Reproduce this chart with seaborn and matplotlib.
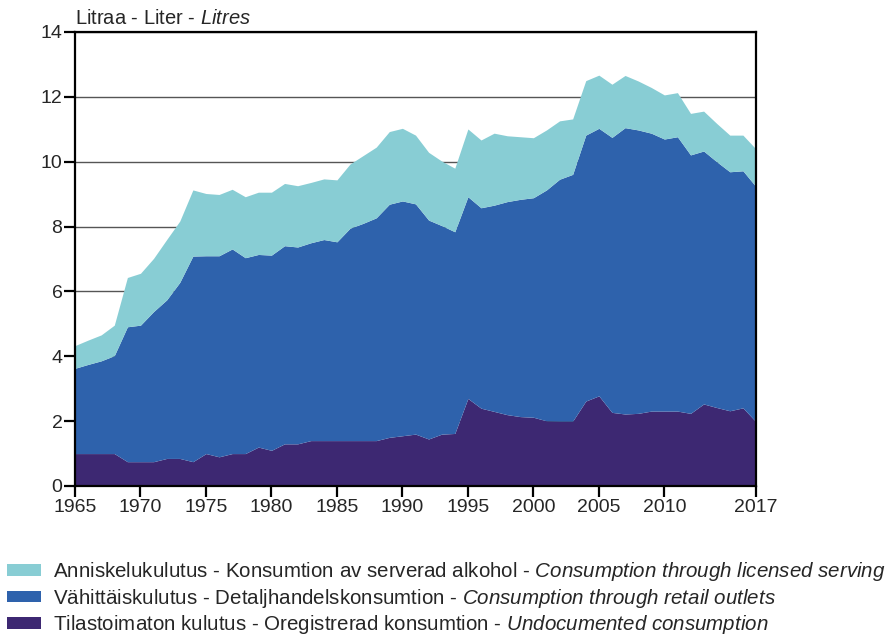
import numpy as np
import pandas as pd
import matplotlib
matplotlib.use("Agg")
import matplotlib.pyplot as plt
import seaborn as sns

# ---------------- data (litres per capita) ----------------
years = list(range(1965, 2018))

undocumented = [
    1.0, 1.0, 1.0, 1.0, 0.75, 0.75, 0.75, 0.85, 0.85, 0.75,
    1.0, 0.9, 1.0, 1.0, 1.2, 1.1, 1.3, 1.3, 1.4, 1.4,
    1.4, 1.4, 1.4, 1.4, 1.5, 1.55, 1.6, 1.45, 1.6, 1.62,
    2.7, 2.4, 2.3, 2.2, 2.14, 2.12, 2.01, 2.0, 2.0, 2.62,
    2.78, 2.27, 2.22, 2.24, 2.31, 2.31, 2.31, 2.24, 2.53, 2.42,
    2.32, 2.41, 1.98,
]

# cumulative top of retail band (undocumented + retail)
retail_top = [
    3.63, 3.75, 3.86, 4.02, 4.91, 4.96, 5.38, 5.74, 6.28, 7.09,
    7.1, 7.1, 7.31, 7.04, 7.14, 7.12, 7.41, 7.37, 7.5, 7.6,
    7.53, 7.95, 8.1, 8.27, 8.69, 8.79, 8.7, 8.2, 8.03, 7.84,
    8.92, 8.58, 8.66, 8.77, 8.84, 8.89, 9.13, 9.46, 9.61, 10.82,
    11.03, 10.75, 11.05, 10.98, 10.88, 10.7, 10.77, 10.21, 10.33, 10.0,
    9.69, 9.72, 9.23,
]

# total consumption (top of licensed band)
total = [
    4.33, 4.5, 4.66, 4.96, 6.43, 6.56, 7.02, 7.6, 8.17, 9.13,
    9.02, 8.99, 9.15, 8.92, 9.06, 9.06, 9.33, 9.26, 9.36, 9.47,
    9.44, 9.93, 10.19, 10.45, 10.93, 11.03, 10.82, 10.29, 10.02, 9.8,
    11.01, 10.67, 10.88, 10.8, 10.77, 10.74, 10.98, 11.26, 11.32, 12.5,
    12.67, 12.39, 12.66, 12.49, 12.29, 12.06, 12.13, 11.49, 11.56, 11.18,
    10.82, 10.82, 10.39,
]

xtick_years = [1965, 1970, 1975, 1980, 1985, 1990, 1995, 2000, 2005, 2010, 2017]

labels = [
    r"Anniskelukulutus - Konsumtion av serverad alkohol - $\mathit{Consumption\ through\ licensed\ serving}$",
    r"Vähittäiskulutus - Detaljhandelskonsumtion - $\mathit{Consumption\ through\ retail\ outlets}$",
    r"Tilastoimaton kulutus - Oregistrerad konsumtion - $\mathit{Undocumented\ consumption}$",
]
colors = ["#88cdd4", "#2e62ac", "#3d2872"]

df = pd.DataFrame({
    "year": years,
    "undocumented": undocumented,
    "retail": np.array(retail_top) - np.array(undocumented),
    "licensed": np.array(total) - np.array(retail_top),
})

# ---------------- style ----------------
sns.set_theme(style="white")
plt.rcParams["font.family"] = ["Liberation Sans", "DejaVu Sans"]
plt.rcParams["mathtext.fontset"] = "custom"
plt.rcParams["mathtext.rm"] = "Liberation Sans"
plt.rcParams["mathtext.it"] = "Liberation Sans:italic"

fig = plt.figure(figsize=(8.91, 6.38), dpi=100)
ax = fig.add_axes([75 / 891, 1 - 486 / 638, (756 - 75) / 891, (486 - 32) / 638])

polys = ax.stackplot(
    df["year"],
    df["undocumented"], df["retail"], df["licensed"],
    colors=colors[::-1],
    linewidth=0,
)

ax.set_xlim(1965, 2017)
ax.set_ylim(0, 14)
ax.set_xticks(xtick_years)
ax.set_yticks(range(0, 15, 2))
ax.yaxis.grid(True, color="#555555", linewidth=1.0)
ax.set_axisbelow(True)

for s in ax.spines.values():
    s.set_color("black")
    s.set_linewidth(1.6)

ax.tick_params(axis="both", direction="out", length=8, width=1.6,
               color="black", labelsize=14, pad=1,
               bottom=True, left=True)

ax.text(0, 1.008, r"Litraa - Liter - $\mathit{Litres}$",
        transform=ax.transAxes, fontsize=14.5, ha="left", va="bottom")

handles = [polys[2], polys[1], polys[0]]
fig.legend(handles, labels, loc="upper left",
           bbox_to_anchor=(0.0, 1 - 553 / 638),
           frameon=False, fontsize=14.8, handlelength=1.65,
           handleheight=0.5, handletextpad=0.6, labelspacing=0.17,
           borderaxespad=0.0, borderpad=0.35)

fig.savefig("out.png", dpi=100)
